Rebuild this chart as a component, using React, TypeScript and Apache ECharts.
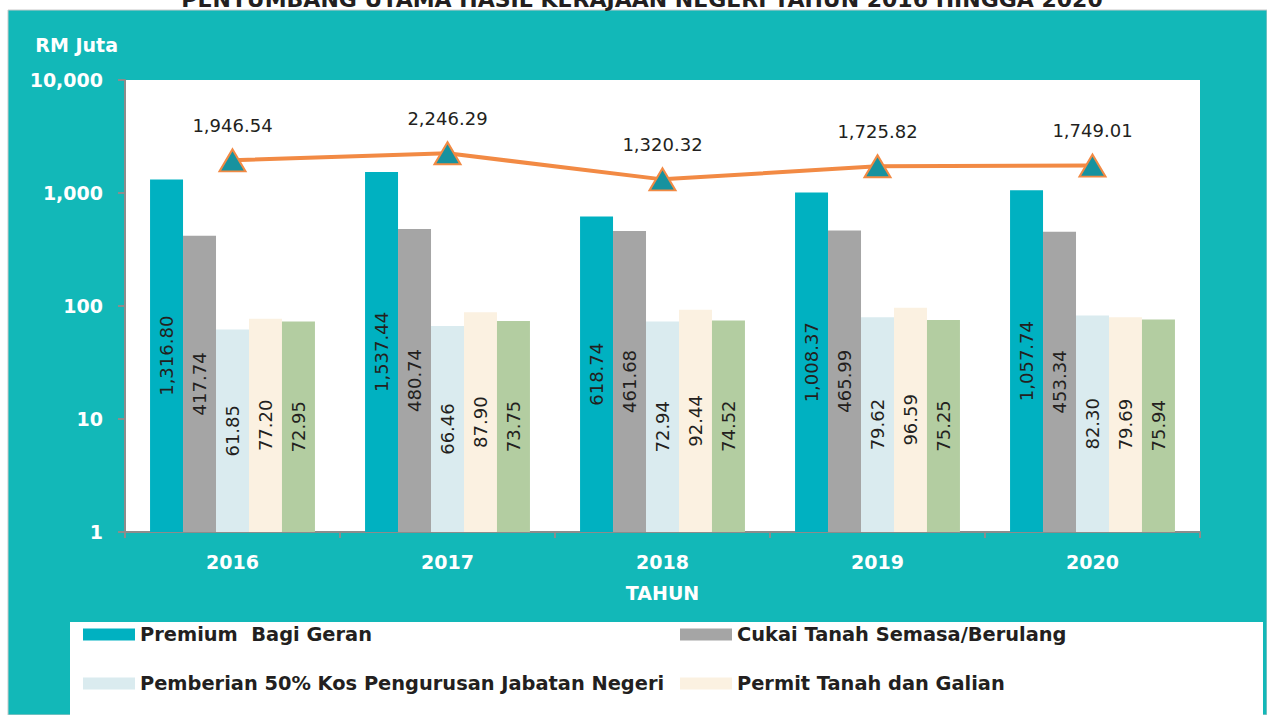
import React, { useEffect, useRef } from "react";
import * as echarts from "echarts";

const years = ["2016", "2017", "2018", "2019", "2020"];
const premium = [1316.8, 1537.44, 618.74, 1008.37, 1057.74];
const cukai = [417.74, 480.74, 461.68, 465.99, 453.34];
const pemberian = [61.85, 66.46, 72.94, 79.62, 82.3];
const permit = [77.2, 87.9, 92.44, 96.59, 79.69];
const kelima = [72.95, 73.75, 74.52, 75.25, 75.94];
const jumlah = [1946.54, 2246.29, 1320.32, 1725.82, 1749.01];
const yTicks = ["1", "10", "100", "1,000", "10,000"];

const seriesNames = [
  "Premium  Bagi Geran",
  "Cukai Tanah Semasa/Berulang",
  "Pemberian 50% Kos Pengurusan Jabatan Negeri",
  "Permit Tanah dan Galian",
  "Lain-lain",
];

const fmt = (v: number) => {
  const s = v.toFixed(2);
  const [i, d] = s.split(".");
  return i.replace(/\B(?=(\d{3})+(?!\d))/g, ",") + "." + d;
};

const FONT = "DejaVu Sans";
const DARK = "#231f20";

export default function App() {
  const ref = useRef<HTMLDivElement>(null);
  useEffect(() => {
    if (!ref.current) return;
    const chart = echarts.init(ref.current, undefined, { renderer: "svg" });
    const barColors = ["#00b1c1", "#a5a5a5", "#daebef", "#fbf1e1", "#b3cda1"];
    const barData = [premium, cukai, pemberian, permit, kelima];
    const barSeries = barData.map((d, i) => ({
      type: "bar",
      name: seriesNames[i],
      data: d,
      barGap: "0%",
      barCategoryGap: "23.3%",
      itemStyle: { color: barColors[i] },
      label: {
        show: true,
        position: "inside",
        rotate: 90,
        color: DARK,
        fontSize: 18,
        fontFamily: FONT,
        formatter: (p: any) => fmt(p.value),
      },
    }));
    const legendItem = (name: string, left: number, top: number) => ({
      data: [name],
      left,
      top,
      padding: 0,
      icon: "rect",
      itemWidth: 52,
      itemHeight: 12,
      textStyle: { color: DARK, fontSize: 19.4, fontWeight: "bold", fontFamily: FONT },
    });
    chart.setOption({
      animation: false,
      backgroundColor: "#ffffff",
      graphic: [
        {
          type: "rect",
          shape: { x: 8, y: 10, width: 1259, height: 705 },
          style: { fill: "#12b8b8", stroke: "#c8c8c8", lineWidth: 1 },
          z: -10,
          silent: true,
        },
        {
          type: "rect",
          shape: { x: 70, y: 622, width: 1193, height: 100 },
          style: { fill: "#ffffff" },
          z: -5,
          silent: true,
        },
        {
          type: "text",
          x: 642,
          y: 10,
          style: {
            text: "PENYUMBANG UTAMA HASIL KERAJAAN NEGERI TAHUN 2016 HINGGA 2020",
            fill: DARK,
            font: `bold 22px "${FONT}"`,
            align: "center",
            verticalAlign: "bottom",
          },
          z: 10,
        },
      ],
      legend: [
        legendItem(seriesNames[0], 83, 625),
        legendItem(seriesNames[1], 680, 625),
        legendItem(seriesNames[2], 83, 674),
        legendItem(seriesNames[3], 680, 674),
      ],
      grid: { left: 125, right: 67, top: 80, bottom: 183, backgroundColor: "#ffffff", show: true, borderWidth: 0 },
      xAxis: {
        type: "category",
        data: years,
        name: "TAHUN",
        nameLocation: "middle",
        nameGap: 51,
        nameTextStyle: { color: "#ffffff", fontSize: 19, fontWeight: "bold", fontFamily: FONT },
        axisLine: { lineStyle: { color: "#8c8c8c", width: 2 } },
        axisTick: { show: true, length: 6, lineStyle: { color: "#8c8c8c", width: 2 } },
        axisLabel: { color: "#ffffff", fontSize: 19, fontWeight: "bold", fontFamily: FONT, margin: 20 },
      },
      yAxis: {
        type: "log",
        logBase: 10,
        min: 1,
        max: 10000,
        name: "RM Juta",
        nameLocation: "end",
        nameGap: 35,
        nameTextStyle: {
          color: "#ffffff",
          fontSize: 19,
          fontWeight: "bold",
          fontFamily: FONT,
          align: "right",
          verticalAlign: "middle",
          padding: [0, 7, 0, 0],
        },
        splitLine: { show: false },
        axisLine: { show: true, lineStyle: { color: "#8c8c8c", width: 2 } },
        axisTick: { show: true, length: 7, lineStyle: { color: "#8c8c8c", width: 2 } },
        axisLabel: {
          color: "#ffffff",
          fontSize: 19,
          fontWeight: "bold",
          fontFamily: FONT,
          margin: 22,
          formatter: (v: number) => yTicks[Math.round(Math.log10(v))] ?? String(v),
        },
      },
      series: [
        ...barSeries,
        {
          type: "line",
          name: "Jumlah",
          data: jumlah,
          z: 5,
          symbol: "triangle",
          symbolSize: [26, 22],
          lineStyle: { color: "#f28a44", width: 4 },
          itemStyle: { color: "#17929f", borderColor: "#f28a44", borderWidth: 2 },
          label: {
            show: true,
            position: "top",
            distance: 14,
            color: DARK,
            fontSize: 18,
            fontFamily: FONT,
            formatter: (p: any) => fmt(p.value),
          },
        },
      ],
    });
    return () => chart.dispose();
  }, []);
  return (
    <div
      ref={ref}
      style={{ position: "fixed", left: 0, top: 0, width: 1267, height: 715 }}
    />
  );
}
